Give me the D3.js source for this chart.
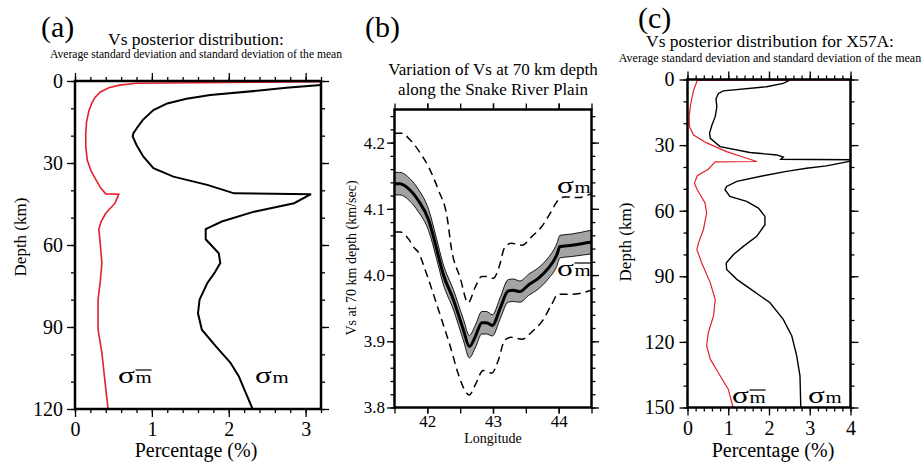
<!DOCTYPE html>
<html>
<head>
<meta charset="utf-8">
<script src="https://cdn.jsdelivr.net/npm/d3@7"></script>
<style>body { margin: 0; background: #fff; } text { font-family: 'Liberation Serif', serif; }</style>
</head>
<body>
<div id="chart"></div>
<script>
// (a) average Vs posterior spread, depth (km) vs percentage
const depthA_sdm = [0.3, 0.8, 1.5, 2.5, 4, 6, 8, 11, 15, 19, 24, 29, 33, 36, 39, 41.3, 41.4, 44.7, 48.4, 51.4, 54.2, 60, 66.6, 73, 80, 91, 99.5, 110, 120];
const pctA_sdm   = [3.2, 0.8, 0.58, 0.44, 0.33, 0.26, 0.22, 0.18, 0.15, 0.14, 0.14, 0.16, 0.21, 0.27, 0.33, 0.40, 0.57, 0.52, 0.40, 0.34, 0.31, 0.33, 0.35, 0.33, 0.30, 0.30, 0.35, 0.39, 0.43];
const depthA_sd  = [1.5, 2.5, 3.5, 5.1, 6.5, 8.2, 10.6, 14.3, 17, 19.1, 20.3, 23.4, 27.7, 31.9, 35, 38, 41.1, 41.4, 44.7, 47.8, 51.4, 54.2, 57.9, 63, 66.6, 70, 74, 80, 85, 91, 97, 103, 108, 114, 120];
const pctA_sd    = [3.2, 2.75, 2.4, 1.76, 1.45, 1.2, 1.02, 0.88, 0.81, 0.76, 0.75, 0.80, 0.89, 1.02, 1.28, 1.72, 2.07, 3.07, 2.85, 2.33, 1.91, 1.70, 1.70, 1.87, 1.89, 1.82, 1.72, 1.62, 1.60, 1.65, 1.83, 2.02, 2.13, 2.22, 2.31];

// (b) Vs at 70 km depth along the Snake River Plain
const lonMean  = [41.50, 41.58, 41.74, 41.86, 42.02, 42.14, 42.24, 42.40, 42.55, 42.64, 42.73, 42.83, 42.90, 42.99, 43.11, 43.23, 43.31, 43.41, 43.54, 43.69, 43.84, 43.97, 44.02, 44.20, 44.50];
const vsMean   = [4.138, 4.138, 4.128, 4.113, 4.083, 4.040, 4.002, 3.962, 3.917, 3.892, 3.907, 3.928, 3.928, 3.924, 3.950, 3.976, 3.977, 3.975, 3.985, 3.995, 4.010, 4.030, 4.043, 4.045, 4.050];
const bandHalf = [0.017, 0.017, 0.017, 0.017, 0.016, 0.015, 0.015, 0.015, 0.016, 0.017, 0.017, 0.017, 0.017, 0.016, 0.016, 0.017, 0.017, 0.016, 0.016, 0.016, 0.016, 0.017, 0.017, 0.017, 0.018];
const lonUpper = [41.50, 41.61, 41.74, 41.86, 42.02, 42.17, 42.30, 42.37, 42.50, 42.62, 42.73, 42.83, 42.90, 43.00, 43.11, 43.16, 43.21, 43.28, 43.44, 43.59, 43.74, 43.87, 43.99, 44.09, 44.30, 44.50];
const vsUpper  = [4.214, 4.214, 4.204, 4.189, 4.163, 4.128, 4.088, 4.038, 3.996, 3.958, 3.982, 3.998, 3.998, 3.995, 4.018, 4.038, 4.045, 4.048, 4.045, 4.058, 4.073, 4.093, 4.113, 4.118, 4.117, 4.123];
const lonLower = [41.50, 41.59, 41.71, 41.81, 41.86, 41.97, 42.09, 42.22, 42.35, 42.47, 42.57, 42.64, 42.73, 42.85, 42.98, 43.08, 43.18, 43.28, 43.44, 43.59, 43.76, 43.89, 43.99, 44.20, 44.50];
const vsLower  = [4.065, 4.065, 4.055, 4.040, 4.035, 4.007, 3.972, 3.932, 3.892, 3.851, 3.826, 3.819, 3.834, 3.856, 3.852, 3.871, 3.902, 3.906, 3.903, 3.914, 3.932, 3.955, 3.971, 3.971, 3.977];

// (c) station X57A
const depthC_sdm = [0.25, 0.4, 4.9, 11, 17, 21.6, 25.4, 29, 33, 36, 37.5, 37.7, 41, 44, 47.4, 50.4, 56.5, 61, 68.7, 74.7, 77.8, 83.9, 93, 100.6, 108, 115.8, 121.8, 127.9, 135.5, 141.6, 150];
const pctC_sdm   = [4.0, 0.24, 0.15, 0.08, 0.04, 0.05, 0.15, 0.47, 0.96, 1.45, 1.7, 0.68, 0.51, 0.24, 0.17, 0.24, 0.43, 0.47, 0.39, 0.27, 0.23, 0.35, 0.56, 0.68, 0.64, 0.51, 0.47, 0.56, 0.80, 1.0, 1.12];
const depthC_sd  = [0.3, 1.8, 3.3, 5.2, 6.4, 8.7, 12.5, 17, 20.8, 24.6, 26.9, 30.7, 33.4, 34.5, 35.5, 36.5, 36.7, 37.3, 39.5, 40.6, 42, 44, 46.6, 48.9, 50.4, 53.5, 55.7, 58.8, 62.6, 66.4, 71.7, 76.3, 80, 83.9, 86.9, 91.4, 96.8, 102, 109.7, 117.3, 126.4, 135.5, 150];
const pctC_sd    = [2.51, 2.35, 1.94, 0.88, 0.76, 0.70, 0.72, 0.68, 0.60, 0.54, 0.56, 0.80, 1.53, 2.19, 2.35, 2.29, 4.0, 4.0, 3.41, 2.92, 2.43, 1.86, 1.21, 0.96, 0.92, 1.04, 1.45, 1.74, 1.90, 1.90, 1.70, 1.37, 1.13, 0.95, 0.96, 1.21, 1.62, 2.02, 2.35, 2.56, 2.68, 2.76, 2.78];

// tick labels
const ticksA_x = [0, 1, 2, 3];
const ticksA_y = [0, 30, 60, 90, 120];
const ticksB_x = [42, 43, 44];
const ticksB_y = [3.8, 3.9, 4.0, 4.1, 4.2];
const ticksC_x = [0, 1, 2, 3, 4];
const ticksC_y = [0, 30, 60, 90, 120, 150];

const serif = "Liberation Serif";
const red = "#e3202b";

const svg = d3.select("#chart")
    .append("svg")
    .attr("width", 924)
    .attr("height", 465);

// ticks on all four sides, labels only left and bottom
function axes(g, x, y, o) {
    const left = x.range()[0], right = x.range()[1];
    const top = Math.min(...y.range()), bottom = Math.max(...y.range());
    const add = (axis, tx, ty, fs) => {
        const a = g.append("g")
            .attr("transform", `translate(${tx},${ty})`)
            .call(axis);
        a.select(".domain").remove();
        a.selectAll("line").attr("stroke", "#000").attr("stroke-width", 1.3);
        a.attr("font-family", serif).attr("font-size", fs || 10);
        a.selectAll("text").attr("fill", "#000").style("font-family", serif);
        return a;
    };
    add(d3.axisLeft(y).tickValues(o.yMinor).tickSize(o.minorY).tickFormat(""), left, 0);
    add(d3.axisRight(y).tickValues(o.yMinor).tickSize(o.minorY).tickFormat(""), right, 0);
    add(d3.axisTop(x).tickValues(o.xMinor).tickSize(o.minorX).tickFormat(""), 0, top);
    add(d3.axisBottom(x).tickValues(o.xMinor).tickSize(o.minorX).tickFormat(""), 0, bottom);
    add(d3.axisLeft(y).tickValues(o.yTicks).tickSize(o.majorY).tickPadding(o.padY).tickFormat(o.yFmt), left, 0, o.fs);
    add(d3.axisRight(y).tickValues(o.yTicks).tickSize(o.majorY).tickFormat(""), right, 0);
    add(d3.axisTop(x).tickValues(o.xTicks).tickSize(o.majorX).tickFormat(""), 0, top);
    add(d3.axisBottom(x).tickValues(o.xTicks).tickSize(o.majorX).tickPadding(o.padX).tickFormat(o.xFmt), 0, bottom, o.fs);
    g.append("rect")
        .attr("x", left).attr("y", top)
        .attr("width", right - left).attr("height", bottom - top)
        .attr("fill", "none").attr("stroke", "#000").attr("stroke-width", 2.5);
}

function clip(id, x, y) {
    const top = Math.min(...y.range()), bottom = Math.max(...y.range());
    svg.append("clipPath").attr("id", id)
        .append("rect")
        .attr("x", x.range()[0]).attr("y", top)
        .attr("width", x.range()[1] - x.range()[0]).attr("height", bottom - top);
    return `url(#${id})`;
}

function sigma(x, y, bar) {
    const t = svg.append("g").attr("transform", `translate(${x},${y}) scale(1.3,1)`);
    const s = t.append("text").attr("font-size", 24).style("font-family", serif).text("σ");
    const w = s.node().getComputedTextLength();
    const m = t.append("text").attr("x", w + 0.5).attr("font-size", 16).style("font-family", serif).text("m");
    if (bar) {
        const mw = m.node().getComputedTextLength();
        t.append("line")
            .attr("x1", w + 0.5).attr("x2", w + 0.5 + mw)
            .attr("y1", -13).attr("y2", -13)
            .attr("stroke", "#000").attr("stroke-width", 1.2);
    }
}

function label(txt, x, y, size, anchor) {
    return svg.append("text")
        .attr("x", x).attr("y", y)
        .attr("font-size", size)
        .style("font-family", serif)
        .attr("text-anchor", anchor || "middle")
        .text(txt);
}

function depthLine(x, y) {
    return d3.line().x(d => x(d[0])).y(d => y(d[1]));
}

// ---------- panel (a) ----------
const xA = d3.scaleLinear().domain([0, 3.2]).range([75, 321]);
const yA = d3.scaleLinear().domain([0, 120]).range([81, 409]);
const gA = svg.append("g");
const clipA = clip("clipA", xA, yA);
gA.append("path")
    .datum(pctA_sd.map((p, i) => [p, depthA_sd[i]]))
    .attr("d", depthLine(xA, yA))
    .attr("clip-path", clipA)
    .attr("fill", "none").attr("stroke", "#000").attr("stroke-width", 2);
gA.append("path")
    .datum(pctA_sdm.map((p, i) => [p, depthA_sdm[i]]))
    .attr("d", depthLine(xA, yA))
    .attr("clip-path", clipA)
    .attr("fill", "none").attr("stroke", red).attr("stroke-width", 1.6);
axes(gA, xA, yA, {
    xTicks: ticksA_x, xMinor: d3.range(0, 3.21, 0.2), yTicks: ticksA_y, yMinor: d3.range(0, 121, 10),
    majorX: 8, minorX: 4, majorY: 8, minorY: 4, padX: 5, padY: 4, fs: 20,
    xFmt: d3.format("d"), yFmt: d3.format("d")
});
label("(a)", 41, 37, 30, "start");
label("Vs posterior distribution:", 196, 45, 17.5);
label("Average standard deviation and standard deviation of the mean", 196, 58, 11.6);
label("Percentage (%)", 196, 457, 20);
label("Depth (km)", 0, 0, 17).attr("transform", "translate(26,237) rotate(-90)");
sigma(118, 383, true);
sigma(255, 383, false);

// ---------- panel (b) ----------
const xB = d3.scaleLinear().domain([41.5, 44.5]).range([394.5, 591.5]);
const yB = d3.scaleLinear().domain([3.8, 4.25]).range([407.5, 109.5]);
const gB = svg.append("g");
const clipB = clip("clipB", xB, yB);
const meanData = lonMean.map((l, i) => ({ lon: l, v: vsMean[i], h: bandHalf[i] }));
gB.append("path")
    .datum(meanData)
    .attr("d", d3.area().curve(d3.curveMonotoneX)
        .x(d => xB(d.lon)).y0(d => yB(d.v - d.h)).y1(d => yB(d.v + d.h)))
    .attr("clip-path", clipB)
    .attr("fill", "#a3a3a3").attr("stroke", "#000").attr("stroke-width", 0.9);
gB.append("path")
    .datum(meanData)
    .attr("d", d3.line().curve(d3.curveMonotoneX).x(d => xB(d.lon)).y(d => yB(d.v)))
    .attr("clip-path", clipB)
    .attr("fill", "none").attr("stroke", "#000").attr("stroke-width", 3);
[[lonUpper, vsUpper], [lonLower, vsLower]].forEach(([lon, vs]) => {
    gB.append("path")
        .datum(lon.map((l, i) => [l, vs[i]]))
        .attr("d", d3.line().curve(d3.curveMonotoneX).x(d => xB(d[0])).y(d => yB(d[1])))
        .attr("clip-path", clipB)
        .attr("fill", "none").attr("stroke", "#000").attr("stroke-width", 1.5)
        .attr("stroke-dasharray", "8,5");
});
axes(gB, xB, yB, {
    xTicks: ticksB_x, xMinor: d3.range(41.5, 44.51, 0.5), yTicks: ticksB_y, yMinor: d3.range(3.8, 4.251, 0.02),
    majorX: 6, minorX: 6, majorY: 7.5, minorY: 4, padX: 1, padY: 2, fs: 17,
    xFmt: d3.format("d"), yFmt: d3.format(".1f")
});
label("(b)", 365, 37, 30, "start");
label("Variation of Vs at 70 km depth", 493, 75, 17);
label("along the Snake River Plain", 493, 95, 17);
label("Longitude", 493, 443, 14);
label("Vs at 70 km depth (km/sec)", 0, 0, 14).attr("transform", "translate(356,258) rotate(-90)");
sigma(557, 193, false);
sigma(557, 276, true);

// ---------- panel (c) ----------
const xC = d3.scaleLinear().domain([0, 4]).range([687.5, 850.5]);
const yC = d3.scaleLinear().domain([0, 150]).range([79.5, 407.5]);
const gC = svg.append("g");
const clipC = clip("clipC", xC, yC);
gC.append("path")
    .datum(pctC_sd.map((p, i) => [p, depthC_sd[i]]))
    .attr("d", depthLine(xC, yC))
    .attr("clip-path", clipC)
    .attr("fill", "none").attr("stroke", "#000").attr("stroke-width", 1.4);
gC.append("path")
    .datum(pctC_sdm.map((p, i) => [p, depthC_sdm[i]]))
    .attr("d", depthLine(xC, yC))
    .attr("clip-path", clipC)
    .attr("fill", "none").attr("stroke", red).attr("stroke-width", 1.2);
axes(gC, xC, yC, {
    xTicks: ticksC_x, xMinor: d3.range(0, 4.01, 0.2), yTicks: ticksC_y, yMinor: d3.range(0, 151, 10),
    majorX: 8, minorX: 4, majorY: 8, minorY: 4, padX: 5, padY: 5, fs: 20,
    xFmt: d3.format("d"), yFmt: d3.format("d")
});
label("(c)", 638, 28, 30, "start");
label("Vs posterior distribution for X57A:", 770, 47, 17.5);
label("Average standard deviation and standard deviation of the mean", 770, 62, 12);
label("Percentage (%)", 773, 457, 20);
label("Depth (km)", 0, 0, 17).attr("transform", "translate(631,242) rotate(-90)");
sigma(732, 403, true);
sigma(808, 403, false);
</script>
</body>
</html>
